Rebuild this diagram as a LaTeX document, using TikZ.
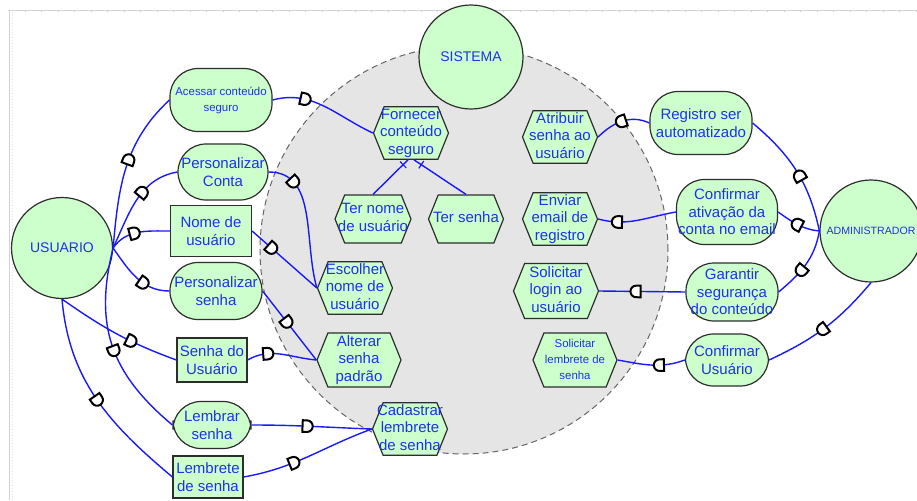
\documentclass[tikz,border=0pt]{standalone}
\usepackage{fontspec}
\setmainfont{Liberation Sans}
\usetikzlibrary{shapes.symbols, decorations.markings}

\definecolor{ucgreen}{RGB}{204,255,204}
\definecolor{uctext}{RGB}{30,50,230}
\definecolor{ucline}{RGB}{25,25,250}
\definecolor{ucgray}{RGB}{229,229,229}
\definecolor{ucedge}{RGB}{45,45,45}

\newcommand{\ucfont}{\fontsize{7.5}{8.75}\selectfont}
\newcommand{\ucsmall}{\fontsize{5.7}{8}\selectfont}
\newcommand{\dmark}[1]{\draw[xscale=#1, black, line width=1pt, fill=white] (-2.2pt,-2.9pt) -- (-2.2pt,2.9pt) -- (0pt,2.9pt) arc[start angle=90, end angle=-90, radius=2.9pt] -- cycle;}
\newcommand{\hexlines}[1]{\makebox[0pt]{\begin{tabular}{@{}c@{}}#1\end{tabular}}}

\begin{document}
\begin{tikzpicture}[x=0.5pt, y=0.5pt,
    actor/.style={circle, draw=ucedge, line width=0.6pt, fill=ucgreen, text=uctext, inner sep=0pt},
    goal/.style={rectangle, rounded corners=14pt, draw=ucedge, line width=0.6pt, fill=ucgreen, text=uctext, align=center, inner sep=0pt, font=\ucfont},
    res/.style={rectangle, draw=ucedge, line width=0.6pt, fill=ucgreen, text=uctext, align=center, inner sep=0pt, font=\ucfont},
    task/.style={signal, signal to=east and west, signal pointer angle=136, draw=ucedge, line width=0.6pt, fill=ucgreen, text=uctext, inner sep=0pt, minimum width=37.5pt, minimum height=24.5pt, font=\ucfont},
    link/.style={draw=ucline, line width=0.7pt},
    dep/.style={postaction={decorate, decoration={markings, mark=at position #1 with {\dmark{1}}}}},
    depr/.style={postaction={decorate, decoration={markings, mark=at position #1 with {\dmark{-1}}}}},
    dec/.style={postaction={decorate, decoration={markings, mark=at position 0.86 with {\draw[ucline, line width=0.6pt] (0pt,-2.2pt) -- (0pt,2.2pt);}}}}]
    \useasboundingbox (0,0) rectangle (917,500);
    % canvas frame
    \draw[gray!35] (8,490) -- (917,490);
    \draw[gray!35] (9,0) -- (9,490);
    \draw[gray!25, densely dotted] (12,0) -- (12,488);
    \foreach \k in {0,...,54} \draw[gray!40] (25+16.5*\k,490) -- ++(0,-2);

    % system boundary and actors
    \node[circle, draw=gray!80!black, dash pattern=on 3pt off 2pt, line width=0.5pt, fill=ucgray, minimum size=204pt, inner sep=0pt] (sysbound) at (464,250) {};
    \node[actor, minimum size=50.5pt, font=\fontsize{7}{8}\selectfont] (usuario) at (62,252) {USUARIO};
    \node[actor, minimum size=52pt, font=\fontsize{7}{8}\selectfont] (sistema) at (471,443) {SISTEMA};
    \node[actor, minimum size=51pt, font=\fontsize{5.3}{6}\selectfont] (admin) at (871,269) {ADMINISTRADOR};

    % user side
    \node[goal, minimum width=51pt, minimum height=31.5pt, font=\ucsmall] (acessar) at (221,400) {Acessar conteúdo\\seguro};
    \node[goal, minimum width=45pt, minimum height=28pt] (pconta) at (223,328) {Personalizar\\Conta};
    \node[res, minimum width=40.5pt, minimum height=25.5pt] (nome) at (211,269) {Nome de\\usuário};
    \node[goal, minimum width=46pt, minimum height=28.5pt] (psenha) at (216,209) {Personalizar\\senha};
    \node[res, minimum width=35pt, minimum height=22pt] (senhausu) at (212,140) {Senha do\\Usuário};
    \node[goal, minimum width=39pt, minimum height=23.5pt] (lembrar) at (212,75) {Lembrar\\senha};
    \node[res, minimum width=35pt, minimum height=21pt] (lembrete) at (208,23) {Lembrete\\de senha};

    % system tasks
    \node[task] (fornecer) at (411,367) {\hexlines{Fornecer\\conteúdo\\seguro}};
    \node[task, minimum width=38pt, minimum height=24pt] (ternome) at (373,281) {\hexlines{Ter nome\\de usuário}};
    \node[task, minimum height=24pt] (tersenha) at (466,281) {\hexlines{Ter senha}};
    \node[task] (escolher) at (355,212) {\hexlines{Escolher\\nome de\\usuário}};
    \node[task, minimum width=42pt, minimum height=27pt] (alterar) at (359,140) {\hexlines{Alterar\\senha\\padrão}};
    \node[task, minimum height=24pt] (cadastrar) at (410,71) {\hexlines{Cadastrar\\lembrete\\de senha}};
    \node[task] (atribuir) at (560,363) {\hexlines{Atribuir\\senha ao\\usuário}};
    \node[task, minimum height=24pt] (enviar) at (560,281) {\hexlines{Enviar\\email de\\registro}};
    \node[task, minimum width=42.5pt, minimum height=27.5pt] (sollogin) at (556,209) {\hexlines{Solicitar\\login ao\\usuário}};
    \node[task, minimum width=42pt, minimum height=27pt, font=\ucsmall] (sollembrete) at (575,140) {\hexlines{Solicitar\\lembrete de\\senha}};

    % admin side
    \node[goal, minimum width=51pt, minimum height=31.5pt] (registro) at (701,377) {Registro ser\\automatizado};
    \node[goal, minimum width=50.5pt, minimum height=32.5pt] (confativ) at (727,288) {Confirmar\\ativação da\\conta no email};
    \node[goal, minimum width=46pt, minimum height=29pt] (garantir) at (732,208) {Garantir\\segurança\\do conteúdo};
    \node[goal, minimum width=41.5pt, minimum height=26pt] (confusu) at (727,140) {Confirmar\\Usuário};

    % dependencies of USUARIO
    \draw[link, dep=0.55] (usuario.east) to[out=85, in=223] (acessar.west);
    \draw[link, dep=0.6] (usuario.east) to[out=65, in=190] (pconta.west);
    \draw[link, dep=0.42] (usuario.east) to[out=55, in=180] (nome.west);
    \draw[link, dep=0.62] (usuario.east) to[out=-55, in=180] (psenha.west);
    \draw[link, dep=0.62] (usuario.south) to[out=-35, in=160] (senhausu.west);
    \draw[link, dep=0.52] (usuario.east) to[out=-104, in=140, looseness=1.1] (lembrar.west);
    \draw[link, dep=0.5] (usuario.south) to[out=-85, in=140] (lembrete.west);

    \draw[link, dep=0.3] (acessar.east) to[out=15, in=155] (fornecer.west);
    \draw[link, dep=0.2] (pconta.east) to[out=0, in=106] (escolher.west);
    \draw[link, dep=0.3] (nome.east) -- (escolher.west);
    \draw[link, dep=0.45] (psenha.east) -- (alterar.west);
    \draw[link, dep=0.3] (senhausu.east) to[out=30, in=175] (alterar.west);
    \draw[link, dep=0.46] (lembrar.east) to[out=0, in=178] (cadastrar.west);
    \draw[link, dep=0.38] (lembrete.east) to[out=10, in=200] (cadastrar.west);

    % decomposition
    \draw[link, dec] (ternome.north) -- ([xshift=-1.5pt]fornecer.south);
    \draw[link, dec] (tersenha.north) -- ([xshift=1.5pt]fornecer.south);

    % dependencies of ADMINISTRADOR
    \draw[link, depr=0.5] (atribuir.east) to[out=45, in=155] (registro.west);
    \draw[link, depr=0.25] (enviar.east) to[out=-15, in=190] (confativ.west);
    \draw[link, depr=0.43] (sollogin.east) -- (garantir.west);
    \draw[link, depr=0.62] (sollembrete.east) to[out=-10, in=200] (confusu.west);
    \draw[link, depr=0.55] (registro.east) to[out=-40, in=102] (admin.west);
    \draw[link, depr=0.5] (confativ.east) to[out=-35, in=174] (admin.west);
    \draw[link, depr=0.42] (garantir.east) to[out=40, in=-100] (admin.west);
    \draw[link, depr=0.48] (confusu.east) to[out=25, in=-130] (admin.south);
\end{tikzpicture}
\end{document}
